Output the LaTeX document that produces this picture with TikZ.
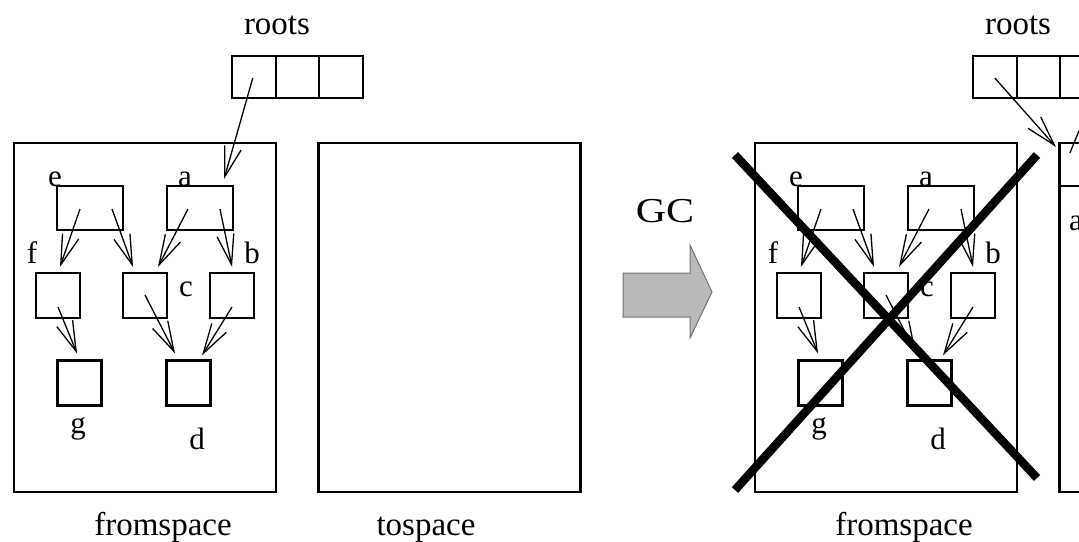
\documentclass[tikz,border=0pt]{standalone}
\usepackage{fontspec}
\setmainfont{Liberation Serif}
\usetikzlibrary{arrows.meta,calc}

% One heap snapshot: fromspace with its object graph, the tospace box,
% and the root array.  #1 = name prefix, #2 = horizontal offset.
\newcommand\drawheap[2]{%
  % semispaces
  \node[space] (#1from) at ({#2+145},317.5) {};
  \node[space] (#1to)   at ({#2+449.5},317.5) {};
  % root array
  \node[cell] (#1r1) at ({#2+253.8},77) {};
  \node[cell] (#1r2) at ({#2+297.5},77) {};
  \node[cell] (#1r3) at ({#2+341.2},77) {};
  \node[lbl] (#1rootslbl) at ({#2+277},34) {roots};
  \node[lbl] (#1fromlbl)  at ({#2+163},535) {fromspace};
  % heap objects
  \node[objw] (#1e) at ({#2+90},208) {};
  \node[objw] (#1a) at ({#2+200},208) {};
  \node[objs] (#1f) at ({#2+58},295.5) {};
  \node[objs] (#1c) at ({#2+145},295.5) {};
  \node[objs] (#1b) at ({#2+232},295.5) {};
  \node[objs] (#1g) at ({#2+79.5},383) {};
  \node[objs] (#1d) at ({#2+188.5},383) {};
  % object names
  \node[tag] (#1le) at ({#2+55},186) {e};
  \node[tag] (#1la) at ({#2+185},186) {a};
  \node[tag] (#1lf) at ({#2+32},263) {f};
  \node[tag] (#1lb) at ({#2+252},263) {b};
  \node[tag] (#1lc) at ({#2+186},296) {c};
  \node[tag] (#1lg) at ({#2+78},433) {g};
  \node[tag] (#1ld) at ({#2+197},449) {d};
  % pointers between objects
  \draw[ptr] ($(#1e)+(-10,1)$)  -- ($(#1f.north)+(2,-5)$);
  \draw[ptr] ($(#1e)+(22,1)$)   -- ($(#1c.north)+(-12,-5)$);
  \draw[ptr] ($(#1a)+(-12,1)$)  -- ($(#1c.north)+(13,-5)$);
  \draw[ptr] ($(#1a)+(20,1)$)   -- ($(#1b.north)+(0,-5)$);
  \draw[ptr] ($(#1f)+(0,11.5)$) -- ($(#1g.north)+(-2.5,-6)$);
  \draw[ptr] ($(#1c)+(0,-0.5)$) -- ($(#1d.north)+(-13.5,-6)$);
  \draw[ptr] ($(#1b)+(0,11.5)$) -- ($(#1d.north)+(13.5,-4)$);
}

\begin{document}
\begin{tikzpicture}[x=1pt,y=-1pt,
  space/.style={draw,line width=2.4pt,inner sep=0pt,minimum width=262pt,minimum height=349pt},
  cell/.style={draw,line width=2.2pt,inner sep=0pt,minimum width=43.7pt,minimum height=42pt},
  objw/.style={draw,line width=2.2pt,inner sep=0pt,minimum width=66pt,minimum height=44pt},
  objs/.style={draw,line width=2.2pt,inner sep=0pt,minimum width=44pt,minimum height=45pt},
  copybox/.style={draw,line width=2.2pt,inner sep=0pt,minimum width=66pt,minimum height=43pt},
  lbl/.style={font=\fontsize{33}{36}\selectfont,anchor=base,inner sep=0pt},
  tag/.style={font=\fontsize{31}{34}\selectfont,anchor=base,inner sep=0pt},
  ptr/.style={line width=1.3pt,-{Straight Barb[length=30pt,width=17pt]}},
  gcarrow/.style={fill=black!27,draw=black!55,line width=1pt,line join=miter},
  cross/.style={line width=8.5pt,line cap=butt},
]
\useasboundingbox (0,0) rectangle (1079,541);
\fill[white] (0,0) rectangle (1079,541);
\clip (0,0) rectangle (1079,541);

% before collection
\drawheap{L}{0}
\node[lbl] (Ltolbl) at (426,535) {tospace};
\draw[ptr] ($(Lr1)+(-1,1)$) -- ($(La.north east)+(-10,-6)$);

% the collection step
\node[font=\fontsize{35}{38}\selectfont,anchor=base,inner sep=0pt] (gc) at (665,222) {\scalebox{1.2}[1]{GC}};
\draw[gcarrow] (623,273) -- (690,273) -- (690,245) -- (712,292) -- (690,338)
  -- (690,317) -- (623,317) -- cycle;

% after collection: old space is discarded, a has been copied
\drawheap{R}{741}
\node[copybox] (Rcopy) at (1093,164.5) {};
\node[tag] (Rlcopy) at (1076,230) {a};
\draw[ptr] ($(Rr1)+(0,1)$) -- ($(Rcopy.north west)+(-3,5)$);
\draw[line width=1.3pt] ($(Rcopy.north west)+(11,11)$) -- ($(Rcopy.north west)+(30,-35)$);

\coordinate (x1) at (735,155);
\coordinate (x2) at (1037,478);
\coordinate (x3) at (735,490);
\coordinate (x4) at (1037,155);
\draw[cross] (x1) -- (x2);
\draw[cross] (x3) -- (x4);
\end{tikzpicture}
\end{document}
